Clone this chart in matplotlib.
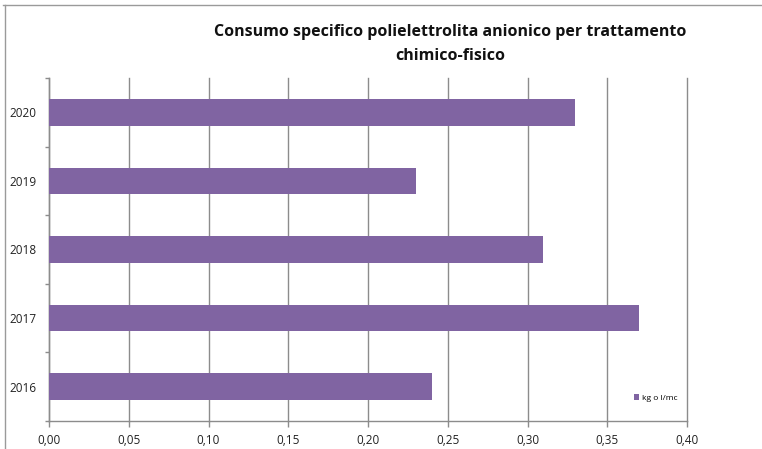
import numpy as np
import matplotlib.pyplot as plt
from matplotlib.lines import Line2D
from matplotlib.ticker import FuncFormatter, MultipleLocator

years = ["2016", "2017", "2018", "2019", "2020"]
consumo = [0.24, 0.37, 0.31, 0.23, 0.33]
serie = "kg o l/mc"
titolo = "Consumo specifico polielettrolita anionico per trattamento\nchimico-fisico"

plt.rcParams['font.family'] = ['Open Sans', 'DejaVu Sans']

W, H = 762, 449
fig = plt.figure(figsize=(W / 100, H / 100), dpi=100)
ax = fig.add_axes([49 / W, 1 - 421 / H, 638 / W, 343 / H])

y = np.arange(len(years))
ax.barh(y, consumo, height=0.39, color="#8064A2", label=serie, zorder=3)

grid_col = "#8c8c8c"
ax.set_xlim(0, 0.40)
ax.set_ylim(-0.5, len(years) - 0.5)
ax.xaxis.set_major_locator(MultipleLocator(0.05))
ax.xaxis.set_major_formatter(FuncFormatter(lambda v, p: f"{v:.2f}".replace(".", ",")))
ax.grid(axis="x", color=grid_col, linewidth=1, zorder=0)
for g in ax.get_xgridlines():
    g.set_clip_on(False)

ax.set_yticks(y)
ax.set_yticklabels(years)
ax.set_yticks(np.arange(-0.5, len(years)), minor=True)
ax.tick_params(axis="y", which="major", length=0, pad=9, labelsize=8.5, labelcolor="#222222")
ax.tick_params(axis="y", which="minor", length=3, color=grid_col, width=1)
ax.tick_params(axis="x", length=4, color=grid_col, width=1, pad=5, labelsize=8.5, labelcolor="#222222")

for side in ["top", "right"]:
    ax.spines[side].set_visible(False)
for side in ["left", "bottom"]:
    ax.spines[side].set_color(grid_col)
    ax.spines[side].set_linewidth(1)

ax.legend(loc="center left", bbox_to_anchor=(626 / W, 1 - 398 / H),
          bbox_transform=fig.transFigure, frameon=False, fontsize=6,
          handlelength=0.7, handleheight=0.7, handletextpad=0.3)

fig.text(450 / W, 1 - 44 / H, titolo, ha="center", va="center",
         fontsize=11.5, fontweight="bold", linespacing=1.6, color="#111111")

# outer chart frame (only top and left edges fall inside the image)
fig.add_artist(Line2D([3 / W, 1], [1 - 5 / H, 1 - 5 / H], color="#9a9a9a", linewidth=1))
fig.add_artist(Line2D([5 / W, 5 / W], [0, 1 - 5 / H], color="#9a9a9a", linewidth=1))

fig.savefig("out.png", dpi=100)
